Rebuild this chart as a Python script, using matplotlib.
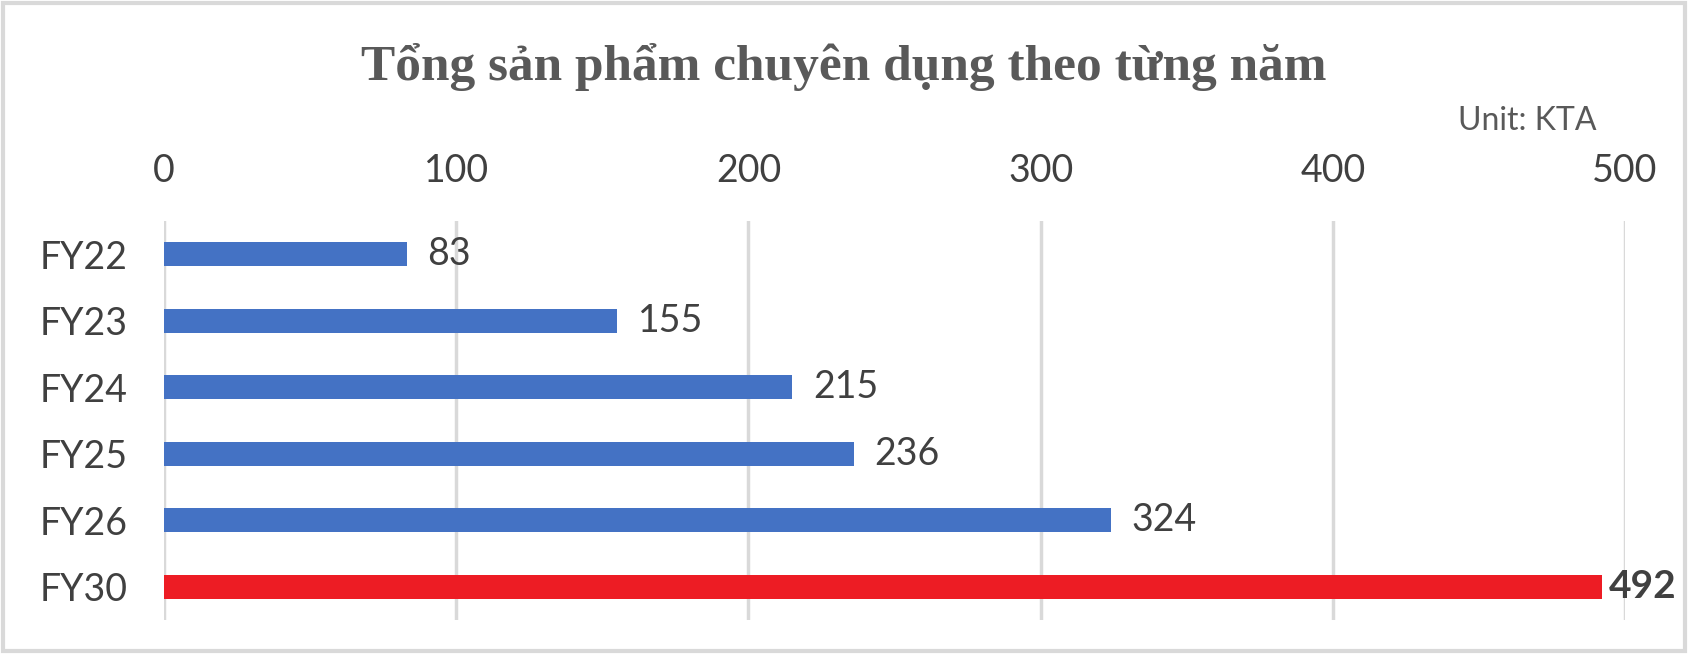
import matplotlib
matplotlib.use("Agg")
import matplotlib.pyplot as plt
from matplotlib.patches import Rectangle

years = ["FY22", "FY23", "FY24", "FY25", "FY26", "FY30"]
values = [83, 155, 215, 236, 324, 492]
highlight = "FY30"

plt.rcParams['font.family'] = ['Lato', 'DejaVu Sans']

fig = plt.figure(figsize=(16.88, 6.54), dpi=100)
ax = fig.add_axes([0.0972, 0.052, 0.8655, 0.610])

normal_y = [y for y in years if y != highlight]
normal_v = [v for y, v in zip(years, values) if y != highlight]
hl_v = [v for y, v in zip(years, values) if y == highlight]

ax.set_yticks(range(len(years)))
ax.set_yticklabels(years)
pos = {y: i for i, y in enumerate(years)}
blue = ax.barh([pos[y] for y in normal_y], normal_v, color="#4472C4", height=0.36, zorder=3)
red = ax.barh([pos[highlight]], hl_v, color="#ED1C24", height=0.36, zorder=3)

ax.set_xlim(0, 500)
ax.set_ylim(5.5, -0.5)
ax.set_xticks(range(0, 501, 100))
ax.xaxis.tick_top()
ax.tick_params(axis='x', length=0, pad=23, labelsize=27, labelcolor="#404040")
ax.tick_params(axis='y', length=0, pad=26, labelsize=27, labelcolor="#404040")
ax.grid(axis='x', color="#d9d9d9", linewidth=2.5, zorder=0)
for s in ax.spines.values():
    s.set_visible(False)

ax.bar_label(blue, padding=15, fontsize=27, color="#404040")
ax.bar_label(red, padding=5, fontsize=28, fontweight="bold", color="#404040")

fig.text(0.5, 0.898, "Tổng sản phẩm chuyên dụng theo từng năm", ha="center", va="center",
         family="Liberation Serif", fontweight="bold", fontsize=37, color="#595959")
fig.text(0.9455, 0.815, "Unit: KTA", ha="right", va="center", fontsize=23, color="#595959")

fig.patches.append(Rectangle((0.002, 0.004), 0.996, 0.992, transform=fig.transFigure,
                             fill=False, edgecolor="#d9d9d9", linewidth=3))

fig.savefig("out.png", dpi=100, facecolor="white")
